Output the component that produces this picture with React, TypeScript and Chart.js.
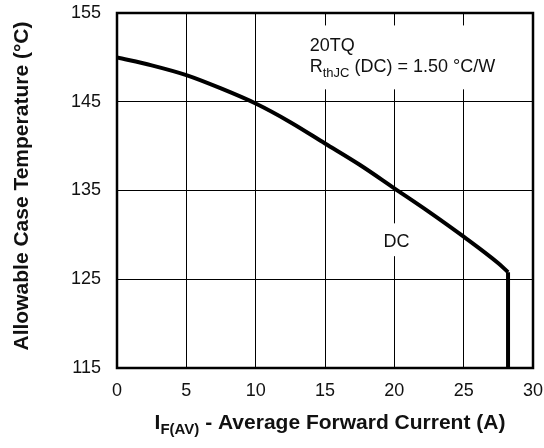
import React, { useEffect, useRef } from 'react';
import { Chart, registerables } from 'chart.js';

Chart.register(...registerables);

// Data
const currentA = [0, 2.5, 5, 7.5, 10, 12.5, 15, 17.5, 20, 22.5, 25, 27.5, 28.2];
const caseTempC = [150, 149.1, 148, 146.5, 144.8, 142.7, 140.3, 137.9, 135.25, 132.6, 129.8, 126.8, 125.8];
const dropCurrentA = [28.2, 28.2];
const dropTempC = [125.8, 115];
const xTicks = [0, 5, 10, 15, 20, 25, 30];
const yTicks = [115, 125, 135, 145, 155];

const partLabel = '20TQ';
const rthMain = 'R';
const rthSub = 'thJC';
const rthRest = ' (DC) = 1.50 °C/W';
const curveLabel = 'DC';
const yTitle = 'Allowable Case Temperature (°C)';
const xTitleMain = 'I';
const xTitleSub = 'F(AV)';
const xTitleRest = ' - Average Forward Current (A)';

const FONT = '"Liberation Sans", Arial, Helvetica, sans-serif';

const overlay = {
  id: 'overlay',
  beforeDatasetsDraw(chart: any) {
    const { ctx, scales } = chart;
    const x = scales.x, y = scales.y;
    ctx.save();
    ctx.fillStyle = '#fff';
    // white backgrounds behind annotations (break the grid lines)
    const l1 = x.getPixelForValue(13.4), r1 = x.getPixelForValue(28.6);
    const t1 = y.getPixelForValue(153.6), b1 = y.getPixelForValue(146.4);
    ctx.fillRect(l1, t1, r1 - l1, b1 - t1);
    const l2 = x.getPixelForValue(18.9), r2 = x.getPixelForValue(21.3);
    const t2 = y.getPixelForValue(131.3), b2 = y.getPixelForValue(127.6);
    ctx.fillRect(l2, t2, r2 - l2, b2 - t2);
    ctx.restore();
  },
  afterDraw(chart: any) {
    const { ctx, chartArea: a, scales } = chart;
    const x = scales.x, y = scales.y;
    ctx.save();
    // frame
    ctx.strokeStyle = '#000';
    ctx.lineWidth = 2.5;
    ctx.strokeRect(a.left, a.top, a.right - a.left, a.bottom - a.top);

    ctx.fillStyle = '#111';
    ctx.textBaseline = 'alphabetic';
    ctx.textAlign = 'left';
    // annotation
    const ax = x.getPixelForValue(13.9);
    ctx.font = `18px ${FONT}`;
    ctx.fillText(partLabel, ax, 51);
    ctx.fillText(rthMain, ax, 72);
    let w = ctx.measureText(rthMain).width;
    ctx.font = `13px ${FONT}`;
    ctx.fillText(rthSub, ax + w, 77);
    w += ctx.measureText(rthSub).width;
    ctx.font = `18px ${FONT}`;
    ctx.fillText(rthRest, ax + w, 72);

    // DC label
    ctx.textAlign = 'center';
    ctx.fillText(curveLabel, x.getPixelForValue(20.15), y.getPixelForValue(129.4) + 6.5);

    // x title
    ctx.textAlign = 'left';
    ctx.font = `bold 21px ${FONT}`;
    const mw = ctx.measureText(xTitleMain).width;
    ctx.font = `bold 15px ${FONT}`;
    const sw = ctx.measureText(xTitleSub).width;
    ctx.font = `bold 21px ${FONT}`;
    const rw = ctx.measureText(xTitleRest).width;
    const total = mw + sw + rw;
    const cx = 330;
    let sx = cx - total / 2;
    const by = 429;
    ctx.fillText(xTitleMain, sx, by);
    ctx.font = `bold 15px ${FONT}`;
    ctx.fillText(xTitleSub, sx + mw, by + 5);
    ctx.font = `bold 21px ${FONT}`;
    ctx.fillText(xTitleRest, sx + mw + sw, by);

    // y title
    ctx.translate(22, 186);
    ctx.rotate(-Math.PI / 2);
    ctx.textAlign = 'center';
    ctx.textBaseline = 'middle';
    ctx.font = `bold 21px ${FONT}`;
    ctx.fillText(yTitle, 0, 0);
    ctx.restore();
  },
};

export default function App() {
  const ref = useRef<HTMLCanvasElement | null>(null);
  useEffect(() => {
    if (!ref.current) return;
    const chart = new Chart(ref.current, {
      type: 'line',
      data: {
        datasets: [
          {
            data: currentA.map((v, i) => ({ x: v, y: caseTempC[i] })),
            borderColor: '#000',
            borderWidth: 4,
            pointRadius: 0,
            cubicInterpolationMode: 'monotone',
            fill: false,
          },
          {
            data: dropCurrentA.map((v, i) => ({ x: v, y: dropTempC[i] })),
            borderColor: '#000',
            borderWidth: 4,
            pointRadius: 0,
            fill: false,
          },
        ],
      },
      options: {
        animation: false,
        responsive: false,
        maintainAspectRatio: false,
        layout: { padding: { top: 13, right: 11, left: 0, bottom: 0 } },
        plugins: { legend: { display: false }, tooltip: { enabled: false } },
        scales: {
          x: {
            type: 'linear',
            min: 0,
            max: 30,
            afterBuildTicks: (s: any) => { s.ticks = xTicks.map((v) => ({ value: v })); },
            afterFit: (s: any) => {
              s.height = 80;
              s.paddingLeft = 0; s.paddingRight = 0; s.paddingTop = 0; s.paddingBottom = 0;
            },
            grid: { color: '#000', lineWidth: 1, drawTicks: false },
            border: { display: false },
            ticks: { padding: 12, color: '#111', font: { family: FONT, size: 18 }, maxRotation: 0 },
          },
          y: {
            type: 'linear',
            min: 115,
            max: 155,
            afterBuildTicks: (s: any) => { s.ticks = yTicks.map((v) => ({ value: v })); },
            afterFit: (s: any) => {
              s.width = 117;
              s.paddingLeft = 0; s.paddingRight = 0; s.paddingTop = 0; s.paddingBottom = 0;
            },
            grid: { color: '#000', lineWidth: 1, drawTicks: false },
            border: { display: false },
            ticks: { padding: 16, color: '#111', font: { family: FONT, size: 18 } },
          },
        },
      },
      plugins: [overlay],
    });
    return () => chart.destroy();
  }, []);
  return (
    <div style={{ position: 'fixed', left: 0, top: 0, width: 544, height: 448, background: '#fff' }}>
      <canvas ref={ref} width={544} height={448} style={{ width: 544, height: 448 }} />
    </div>
  );
}
